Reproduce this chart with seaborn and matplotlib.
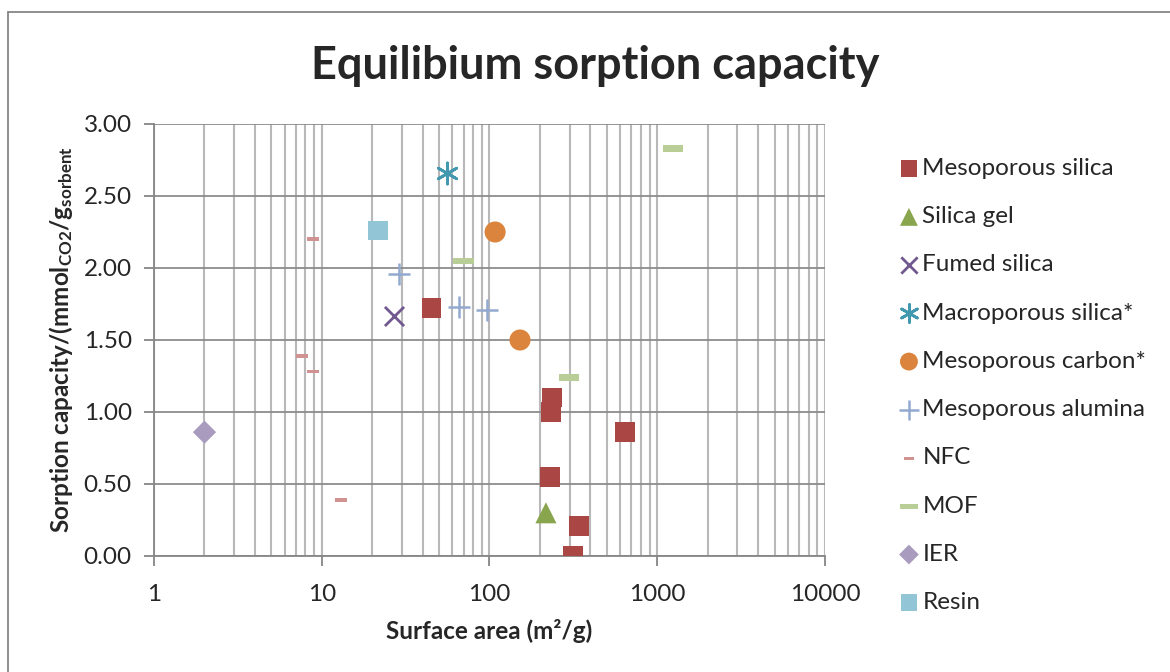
import numpy as np
import pandas as pd
import matplotlib
matplotlib.use("Agg")
import matplotlib.pyplot as plt
import seaborn as sns
from matplotlib.path import Path
from matplotlib.ticker import LogLocator, FixedLocator, NullFormatter, FormatStrFormatter
from matplotlib.lines import Line2D

# ---------------- data ----------------
meso_silica_x = [45, 236, 233, 230, 342, 315, 643]
meso_silica_y = [1.72, 1.10, 1.00, 0.55, 0.21, 0.00, 0.86]
silica_gel_x = [217]
silica_gel_y = [0.30]
fumed_x = [27]
fumed_y = [1.67]
macro_x = [56]
macro_y = [2.66]
meso_carbon_x = [108, 152]
meso_carbon_y = [2.25, 1.50]
alumina_x = [29, 66, 97]
alumina_y = [1.96, 1.73, 1.71]
nfc_x = [8.9, 7.6, 8.9, 13.0]
nfc_y = [2.20, 1.39, 1.28, 0.39]
mof_x = [1240, 70, 298]
mof_y = [2.83, 2.05, 1.24]
ier_x = [2.0]
ier_y = [0.86]
resin_x = [21.6]
resin_y = [2.26]

series_names = ["Mesoporous silica", "Silica gel", "Fumed silica", "Macroporous silica*",
                "Mesoporous carbon*", "Mesoporous alumina", "NFC", "MOF", "IER", "Resin"]
series_x = [meso_silica_x, silica_gel_x, fumed_x, macro_x, meso_carbon_x,
            alumina_x, nfc_x, mof_x, ier_x, resin_x]
series_y = [meso_silica_y, silica_gel_y, fumed_y, macro_y, meso_carbon_y,
            alumina_y, nfc_y, mof_y, ier_y, resin_y]
series_colors = ["#AA4643", "#89A54E", "#71588F", "#4198AF", "#DB843D",
                 "#93A9CF", "#D19392", "#B9CD96", "#A99BBD", "#92C5D5"]

x_ticks = [1, 10, 100, 1000, 10000]
y_ticks = [0.0, 0.5, 1.0, 1.5, 2.0, 2.5, 3.0]

title = "Equilibium sorption capacity"
xlabel = "Surface area (m²/g)"
ylabel = r"Sorption capacity/(mmol$_{\mathbf{CO2}}$/g$_{\mathbf{sorbent}}$"

# ---------------- style ----------------
sns.set_style("white")
plt.rcParams["font.family"] = ["Lato", "DejaVu Sans"]
plt.rcParams["mathtext.fontset"] = "custom"
plt.rcParams["mathtext.rm"] = "Lato"
plt.rcParams["mathtext.bf"] = "Lato:bold"
plt.rcParams["mathtext.it"] = "Lato:italic"

dash = Path([(-1, -0.3), (1, -0.3), (1, 0.3), (-1, 0.3), (-1, -0.3)],
            [Path.MOVETO, Path.LINETO, Path.LINETO, Path.LINETO, Path.CLOSEPOLY])

marker_specs = [
    dict(marker="s", s=200, linewidth=0),
    dict(marker="^", s=230, linewidth=0),
    dict(marker="x", s=190, linewidth=2),
    dict(marker=(6, 2, 0), s=230, linewidth=2),
    dict(marker="o", s=230, linewidth=0),
    dict(marker="+", s=260, linewidth=1.8),
    dict(marker=dash, s=75, linewidth=0),
    dict(marker=dash, s=220, linewidth=0),
    dict(marker="D", s=140, linewidth=0),
    dict(marker="s", s=200, linewidth=0),
]

fig = plt.figure(figsize=(11.7, 6.72), dpi=100)
ax = fig.add_axes([154 / 1170, 1 - 556 / 672, (825 - 154) / 1170, (556 - 124) / 672])

for name, xs, ys, col, spec in zip(series_names, series_x, series_y, series_colors, marker_specs):
    df = pd.DataFrame({"x": xs, "y": ys})
    sns.scatterplot(data=df, x="x", y="y", ax=ax, color=col, label=name,
                    edgecolor=col if spec["linewidth"] > 0 else "none", zorder=3, **spec)

ax.set_xscale("log")
ax.set_xlim(1, 10000)
ax.set_ylim(0, 3.0)
ax.xaxis.set_major_locator(FixedLocator(x_ticks))
ax.set_xticklabels([str(t) for t in x_ticks])
ax.xaxis.set_minor_locator(LogLocator(base=10, subs=np.arange(2, 10)))
ax.xaxis.set_minor_formatter(NullFormatter())
ax.set_yticks(y_ticks)
ax.yaxis.set_major_formatter(FormatStrFormatter("%.2f"))

ax.grid(which="major", axis="y", color="#8C8C8C", linewidth=1.3, zorder=0)
ax.grid(which="both", axis="x", color="#B8B8B8", linewidth=1.5, zorder=0)
ax.set_axisbelow(True)

for side in ["top", "right"]:
    ax.spines[side].set_visible(False)
for side in ["left", "bottom"]:
    ax.spines[side].set_color("#868686")
    ax.spines[side].set_linewidth(1.3)

ax.tick_params(axis="x", which="major", direction="out", length=7, width=1.3,
               color="#868686", pad=13, labelsize=17.5, bottom=True)
ax.tick_params(axis="x", which="minor", length=0)
ax.tick_params(axis="y", which="major", direction="out", length=7, width=1.3,
               color="#868686", pad=9, labelsize=17.5, left=True)

ax.set_xlabel(xlabel, fontsize=17.5, fontweight="bold", labelpad=10)
ax.set_ylabel(ylabel, fontsize=17.5, fontweight="bold", labelpad=6)
fig.text(595 / 1170, 1 - 66 / 672, title, ha="center", va="center",
         fontsize=32.5, fontweight="bold")

handles, labels = ax.get_legend_handles_labels()
leg = ax.legend(handles, labels, loc="upper left",
                bbox_to_anchor=(898 / 1170, 1 - 158 / 672),
                bbox_transform=fig.transFigure, frameon=False, fontsize=17.5,
                labelspacing=1.12, handletextpad=0.1, handlelength=0.9,
                borderpad=0, borderaxespad=0, markerscale=0.85)

# chart-area border (Excel style)
fig.add_artist(Line2D([8 / 1170, 8 / 1170], [0, 1 - 12 / 672], transform=fig.transFigure,
                      color="#868686", linewidth=1.3))
fig.add_artist(Line2D([8 / 1170, 1], [1 - 12 / 672, 1 - 12 / 672], transform=fig.transFigure,
                      color="#868686", linewidth=1.3))

fig.savefig("out.png", dpi=100)
